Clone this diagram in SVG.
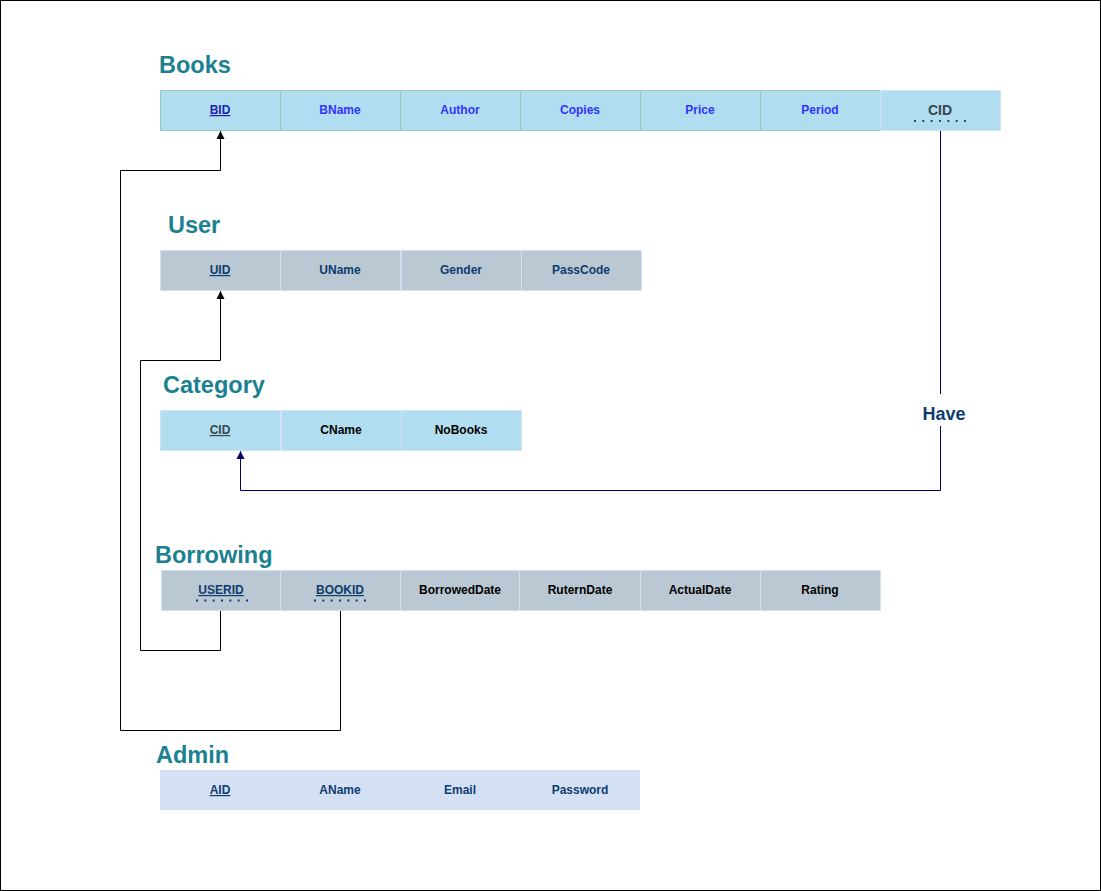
<svg xmlns="http://www.w3.org/2000/svg" width="1101" height="891" viewBox="0 0 1101 891">
<defs>
<style>
.title{font-family:"Liberation Sans",Arial,sans-serif;font-weight:bold;font-size:23.5px;fill:#1b8190}
.cell{font-family:"Liberation Sans",Arial,sans-serif;font-weight:bold;font-size:12px;text-anchor:middle}
.big{font-size:14px}
.bk{fill:#b1ddf0;stroke:#9ac7bf;stroke-width:1}
.bkl{fill:#b1ddf0;stroke:#d4e1f5;stroke-width:1}
.us{fill:#bac8d3;stroke:#d4e1f5;stroke-width:1}
.ad{fill:#d4e1f5;stroke:none}
.blue{fill:#3333ff}
.navy{fill:#0f3c6e}
.dark{fill:#36474f}
.black{fill:#000}
.u{text-decoration:underline}
.dots{stroke-width:2;stroke-dasharray:2 6.33;fill:none}
.conn{fill:none;stroke-width:1}
</style>
<marker id="arrB" markerUnits="userSpaceOnUse" viewBox="0 0 8 9" refX="8" refY="4.5" markerWidth="8" markerHeight="9" orient="auto">
<path d="M0,0.5 L8,4.5 L0,8.5 z" fill="#000"/>
</marker>
<marker id="arrN" markerUnits="userSpaceOnUse" viewBox="0 0 8 9" refX="8" refY="4.5" markerWidth="8" markerHeight="9" orient="auto">
<path d="M0,0.5 L8,4.5 L0,8.5 z" fill="#000066"/>
</marker>
</defs>
<rect x="0.5" y="0.5" width="1100" height="890" fill="#fff" stroke="#000" stroke-width="1"/>

<g id="connectors">
<path class="conn" d="M220.5,610 V650.5 H140.5 V360.5 H220.5 V291" stroke="#000" marker-end="url(#arrB)"/>
<path class="conn" d="M340.5,610 V730.5 H120.5 V170.5 H220.5 V131" stroke="#000" marker-end="url(#arrB)"/>
<path class="conn" d="M940.5,130 V490.5 H240.5 V451" stroke="#000066" marker-end="url(#arrN)"/>
<rect x="921" y="394" width="46" height="32" fill="#fff"/>
<text x="944" y="420" font-family="'Liberation Sans',Arial,sans-serif" font-weight="bold" font-size="18px" text-anchor="middle" fill="#0f3c6e">Have</text>
</g>

<g id="books">
<text class="title" x="159" y="73">Books</text>
<rect class="bk" x="160.5" y="90.5" width="120" height="40"/>
<rect class="bk" x="280.5" y="90.5" width="120" height="40"/>
<rect class="bk" x="400.5" y="90.5" width="120" height="40"/>
<rect class="bk" x="520.5" y="90.5" width="120" height="40"/>
<rect class="bk" x="640.5" y="90.5" width="120" height="40"/>
<rect class="bk" x="760.5" y="90.5" width="120" height="40"/>
<rect class="bkl" x="880.5" y="90.5" width="120" height="40"/>
<text class="cell u" x="220" y="114" fill="#1f1fb0">BID</text>
<text class="cell blue" x="340" y="114">BName</text>
<text class="cell blue" x="460" y="114">Author</text>
<text class="cell blue" x="580" y="114">Copies</text>
<text class="cell blue" x="700" y="114">Price</text>
<text class="cell blue" x="820" y="114">Period</text>
<text class="cell big dark" x="940" y="115">CID</text>
<line class="dots" x1="914" y1="121" x2="967" y2="121" stroke="#36474f"/>
</g>

<g id="user">
<text class="title" x="168" y="233">User</text>
<rect class="us" x="160.5" y="250.5" width="120" height="40"/>
<rect class="us" x="280.5" y="250.5" width="120" height="40"/>
<rect class="us" x="401.5" y="250.5" width="120" height="40"/>
<rect class="us" x="521.5" y="250.5" width="120" height="40"/>
<text class="cell navy u" x="220" y="274">UID</text>
<text class="cell navy" x="340" y="274">UName</text>
<text class="cell navy" x="461" y="274">Gender</text>
<text class="cell navy" x="581" y="274">PassCode</text>
</g>

<g id="category">
<text class="title" x="163" y="393">Category</text>
<rect class="bkl" x="160.5" y="410.5" width="120" height="40"/>
<rect class="bkl" x="281.5" y="410.5" width="120" height="40"/>
<rect class="bkl" x="401.5" y="410.5" width="120" height="40"/>
<text class="cell dark u" x="220" y="434">CID</text>
<text class="cell black" x="341" y="434">CName</text>
<text class="cell black" x="461" y="434">NoBooks</text>
</g>

<g id="borrowing">
<text class="title" x="155" y="563">Borrowing</text>
<rect class="us" x="161.5" y="570.5" width="119" height="40"/>
<rect class="us" x="280.5" y="570.5" width="120" height="40"/>
<rect class="us" x="400.5" y="570.5" width="119" height="40"/>
<rect class="us" x="519.5" y="570.5" width="121" height="40"/>
<rect class="us" x="640.5" y="570.5" width="120" height="40"/>
<rect class="us" x="760.5" y="570.5" width="120" height="40"/>
<text class="cell navy u" x="221" y="594">USERID</text>
<text class="cell navy u" x="340" y="594">BOOKID</text>
<line class="dots" x1="196" y1="600.5" x2="248" y2="600.5" stroke="#0f3c6e"/>
<line class="dots" x1="314" y1="600.5" x2="366" y2="600.5" stroke="#0f3c6e"/>
<text class="cell black" x="460" y="594">BorrowedDate</text>
<text class="cell black" x="580" y="594">RuternDate</text>
<text class="cell black" x="700" y="594">ActualDate</text>
<text class="cell black" x="820" y="594">Rating</text>
</g>

<g id="admin">
<text class="title" x="156" y="763">Admin</text>
<rect class="ad" x="160" y="770" width="480" height="40"/>
<text class="cell navy u" x="220" y="794">AID</text>
<text class="cell navy" x="340" y="794">AName</text>
<text class="cell navy" x="460" y="794">Email</text>
<text class="cell navy" x="580" y="794">Password</text>
</g>
</svg>
